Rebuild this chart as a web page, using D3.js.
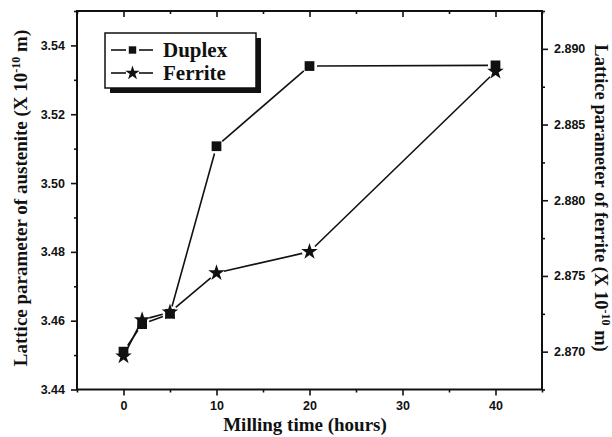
<!DOCTYPE html>
<html>
<head>
<meta charset="utf-8">
<script src="https://cdn.jsdelivr.net/npm/d3@7"></script>
<style>
  body { margin: 0; background: #fff; }
  svg { display: block; }
  .tick text { font-family: "Liberation Sans", Arial, sans-serif; font-weight: bold; font-size: 12.5px; fill: #111; }
  .title { font-family: "Liberation Serif", "Times New Roman", serif; font-weight: bold; font-size: 19px; fill: #111; }
</style>
</head>
<body>
<svg id="chart" width="612" height="437"></svg>
<script>
// milling time (hours)
var hours = [0, 2, 5, 10, 20, 40];
// lattice parameter, austenite (duplex) and ferrite, X 10^-10 m
var duplex = [3.451, 3.459, 3.462, 3.5107, 3.534, 3.5342];
var ferrite = [2.8697, 2.8721, 2.8726, 2.8752, 2.8766, 2.8885];

var xTicks = [0, 10, 20, 30, 40];
var xMinor = [-5, 5, 15, 25, 35, 45];
var leftTicks = [3.44, 3.46, 3.48, 3.50, 3.52, 3.54];
var leftMinor = [3.45, 3.47, 3.49, 3.51, 3.53, 3.55];
var rightTicks = [2.870, 2.875, 2.880, 2.885, 2.890];
var rightMinor = [2.8675, 2.8725, 2.8775, 2.8825, 2.8875, 2.8925];

var svg = d3.select("#chart");
// note: "top" is taken by window.top, so use other names
var pLeft = 77, pRight = 542, pTop = 11, pBottom = 389.5;

var x = d3.scaleLinear().domain([-5, 45]).range([pLeft, pRight]);
var yL = d3.scaleLinear().domain([3.44, 3.55]).range([pBottom, pTop]);
var yR = d3.scaleLinear().domain([2.8675, 2.8925]).range([pBottom, pTop]);

// frame
svg.append("rect")
  .attr("x", pLeft).attr("y", pTop)
  .attr("width", pRight - pLeft).attr("height", pBottom - pTop)
  .attr("fill", "none").attr("stroke", "#111").attr("stroke-width", 2);

function styleAxis(g) {
  g.select(".domain").remove();
  g.selectAll(".tick line").attr("stroke", "#111").attr("stroke-width", 1.6);
}

// bottom
svg.append("g").attr("transform", "translate(0," + pBottom + ")")
  .call(d3.axisBottom(x).tickValues(xTicks).tickSize(6).tickPadding(6).tickFormat(d3.format("d")))
  .call(styleAxis);
svg.append("g").attr("transform", "translate(0," + pBottom + ")")
  .call(d3.axisBottom(x).tickValues(xMinor).tickSize(3).tickFormat(""))
  .call(styleAxis);
// top (inward)
svg.append("g").attr("transform", "translate(0," + pTop + ")")
  .call(d3.axisBottom(x).tickValues(xTicks).tickSize(6).tickFormat(""))
  .call(styleAxis);
svg.append("g").attr("transform", "translate(0," + pTop + ")")
  .call(d3.axisBottom(x).tickValues(xMinor).tickSize(3).tickFormat(""))
  .call(styleAxis);

// left
svg.append("g").attr("transform", "translate(" + pLeft + ",0)")
  .call(d3.axisLeft(yL).tickValues(leftTicks).tickSize(6).tickPadding(6).tickFormat(d3.format(".2f")))
  .call(styleAxis);
svg.append("g").attr("transform", "translate(" + pLeft + ",0)")
  .call(d3.axisLeft(yL).tickValues(leftMinor).tickSize(3).tickFormat(""))
  .call(styleAxis);

// right
svg.append("g").attr("transform", "translate(" + pRight + ",0)")
  .call(d3.axisRight(yR).tickValues(rightTicks).tickSize(6).tickPadding(6).tickFormat(d3.format(".3f")))
  .call(styleAxis);
svg.append("g").attr("transform", "translate(" + pRight + ",0)")
  .call(d3.axisRight(yR).tickValues(rightMinor).tickSize(3).tickFormat(""))
  .call(styleAxis);

// titles
svg.append("text").attr("class", "title")
  .attr("x", 305).attr("y", 431)
  .attr("text-anchor", "middle")
  .text("Milling time (hours)");

var lt = svg.append("text").attr("class", "title")
  .attr("transform", "translate(27," + 198 + ") rotate(-90)")
  .attr("text-anchor", "middle");
lt.append("tspan").text("Lattice parameter of austenite (X 10");
lt.append("tspan").attr("dy", -7).attr("font-size", 12).text("-10");
lt.append("tspan").attr("dy", 7).text(" m)");

var rt = svg.append("text").attr("class", "title")
  .attr("transform", "translate(595," + 198 + ") rotate(90)")
  .attr("text-anchor", "middle")
  .style("font-size", "18.5px");
rt.append("tspan").text("Lattice parameter of ferrite (X 10");
rt.append("tspan").attr("dy", -7).attr("font-size", 12).text("-10");
rt.append("tspan").attr("dy", 7).text(" m)");

// lines with small gaps at the markers
function drawSeries(values, yScale, gap) {
  var pts = hours.map(function(h, i) { return [x(h), yScale(values[i])]; });
  var segs = d3.pairs(pts);
  svg.append("g").selectAll("line")
    .data(segs).enter().append("line")
    .each(function(s) {
      var dx = s[1][0] - s[0][0], dy = s[1][1] - s[0][1];
      var len = Math.sqrt(dx * dx + dy * dy);
      var ux = dx / len, uy = dy / len;
      d3.select(this)
        .attr("x1", s[0][0] + ux * gap).attr("y1", s[0][1] + uy * gap)
        .attr("x2", s[1][0] - ux * gap).attr("y2", s[1][1] - uy * gap);
    })
    .attr("stroke", "#111").attr("stroke-width", 1.6);
  return pts;
}

var dPts = drawSeries(duplex, yL, 7.5);
var fPts = drawSeries(ferrite, yR, 7.5);

var square = d3.symbol().type(d3.symbolSquare).size(95);
var star = d3.symbol().type(d3.symbolStar).size(85);

svg.append("g").selectAll("path")
  .data(fPts).enter().append("path")
  .attr("d", star)
  .attr("transform", function(d) { return "translate(" + d[0] + "," + d[1] + ")"; })
  .attr("fill", "#111");

svg.append("g").selectAll("path")
  .data(dPts).enter().append("path")
  .attr("d", square)
  .attr("transform", function(d) { return "translate(" + d[0] + "," + d[1] + ")"; })
  .attr("fill", "#111");

// legend
var lg = svg.append("g");
lg.append("rect").attr("x", 110).attr("y", 38).attr("width", 151).attr("height", 55).attr("fill", "#111");
lg.append("rect").attr("x", 105).attr("y", 33).attr("width", 151).attr("height", 55)
  .attr("fill", "#fff").attr("stroke", "#111").attr("stroke-width", 1.5);

var legendItems = [
  { name: "Duplex", sym: d3.symbol().type(d3.symbolSquare).size(55), y: 50 },
  { name: "Ferrite", sym: d3.symbol().type(d3.symbolStar).size(65), y: 73 }
];
legendItems.forEach(function(it) {
  lg.append("line").attr("x1", 111).attr("x2", 126).attr("y1", it.y).attr("y2", it.y)
    .attr("stroke", "#111").attr("stroke-width", 1.6);
  lg.append("line").attr("x1", 139).attr("x2", 153).attr("y1", it.y).attr("y2", it.y)
    .attr("stroke", "#111").attr("stroke-width", 1.6);
  lg.append("path").attr("d", it.sym).attr("transform", "translate(132.5," + it.y + ")").attr("fill", "#111");
  lg.append("text").attr("class", "title").attr("x", 163).attr("y", it.y + 7)
    .style("font-size", "21px").text(it.name);
});
</script>
</body>
</html>
